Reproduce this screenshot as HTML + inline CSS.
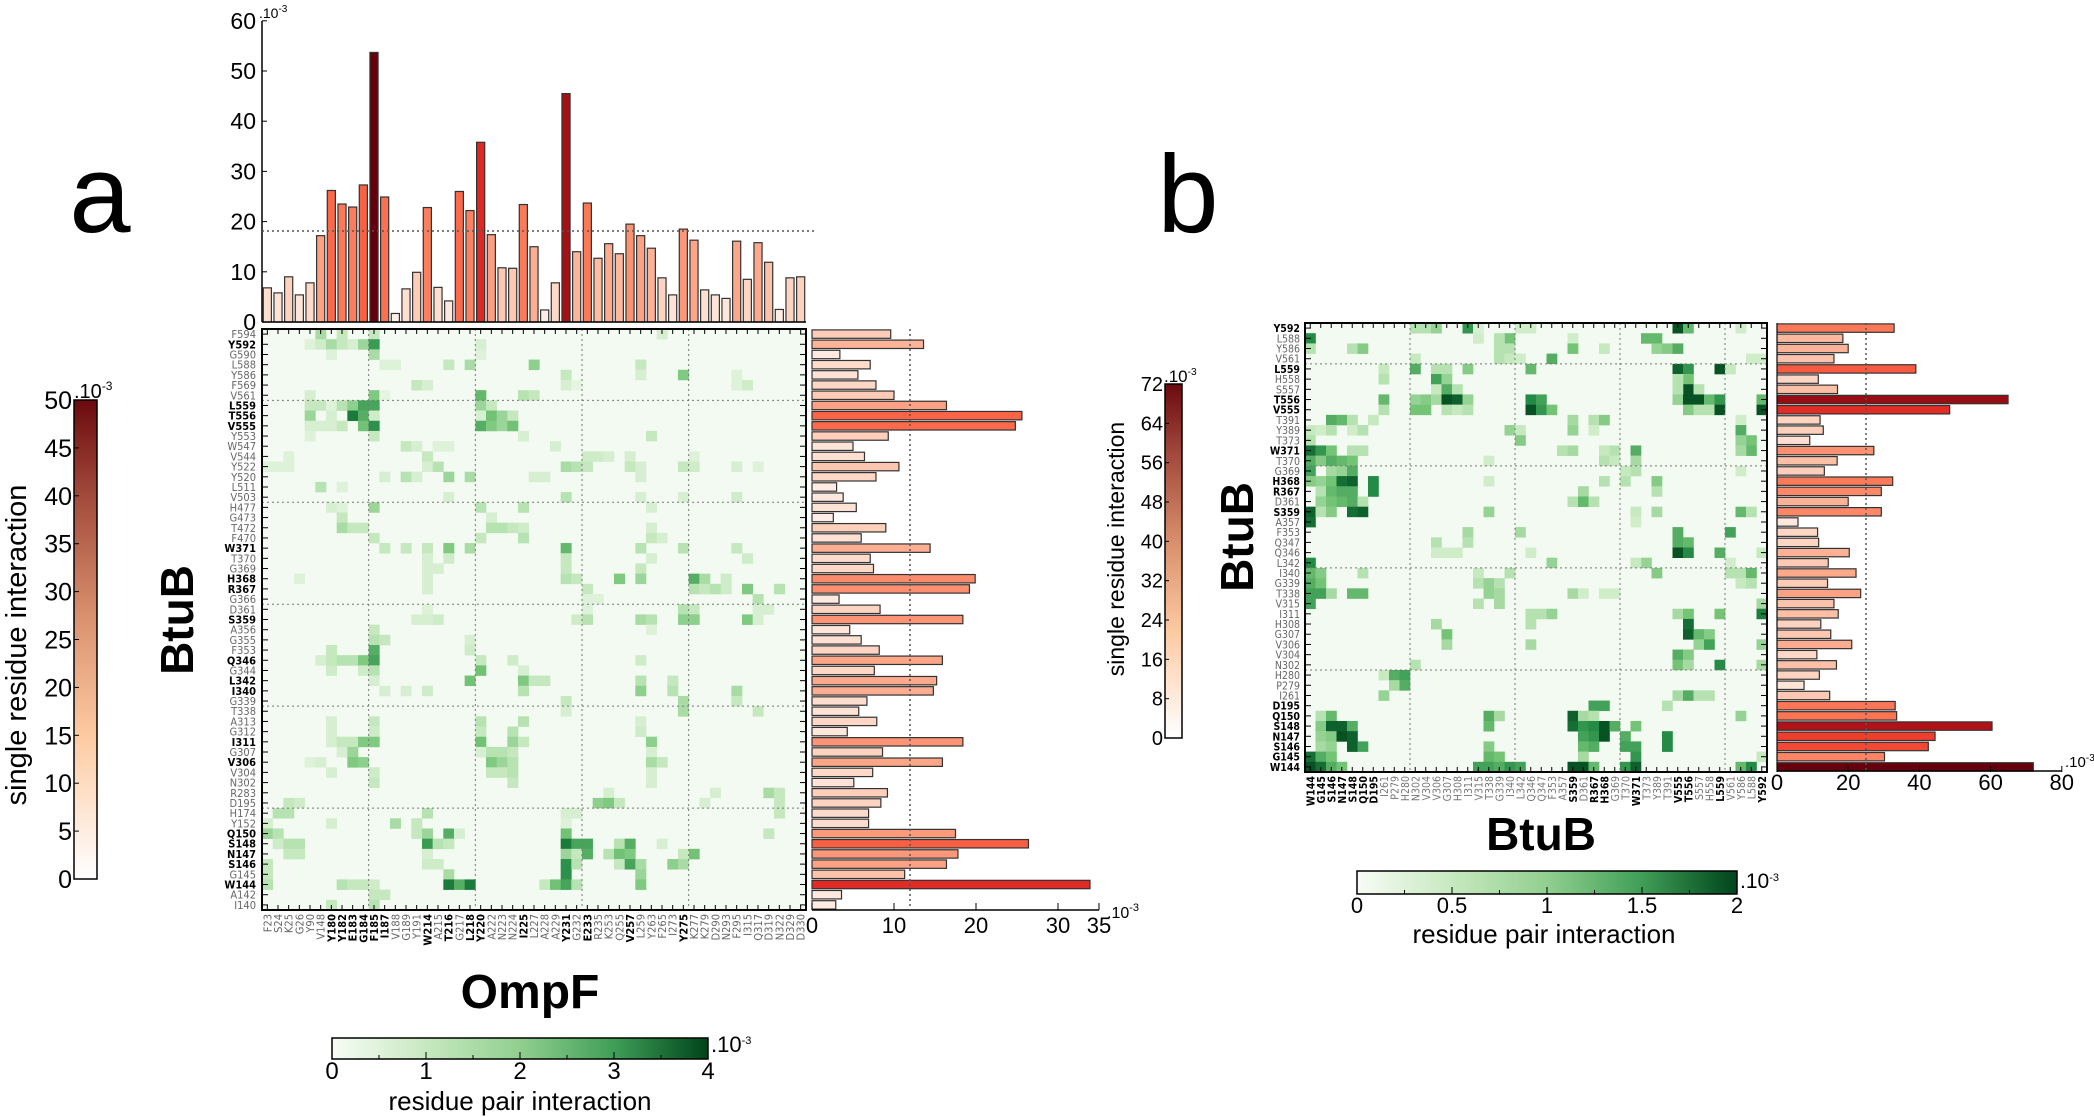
<!DOCTYPE html>
<html><head><meta charset="utf-8"><style>html,body{margin:0;padding:0;background:#fff}svg{display:block}</style></head>
<body>
<svg id="s" xmlns="http://www.w3.org/2000/svg" width="2094" height="1117" viewBox="0 0 2094 1117"></svg>
<script>
const S=[];
const F='font-family="Liberation Sans, DejaVu Sans, sans-serif"';
const FN='font-family="Liberation Sans Narrow, Liberation Sans, sans-serif"';
const FD='font-family="DejaVu Sans Condensed, DejaVu Sans, Liberation Sans, sans-serif"';
function R(x,y,w,h,f,e){S.push(`<rect x="${x.toFixed(2)}" y="${y.toFixed(2)}" width="${w.toFixed(2)}" height="${h.toFixed(2)}" fill="${f}" ${e||''}/>`);}
function L(x1,y1,x2,y2,c,w,e){S.push(`<line x1="${x1}" y1="${y1}" x2="${x2}" y2="${y2}" stroke="${c}" stroke-width="${w}" ${e||''}/>`);}
function T(x,y,t,e){S.push(`<text x="${x}" y="${y}" ${e}>${t}</text>`);}
function lerp(st,t){t=Math.max(0,Math.min(1,t));for(let i=1;i<st.length;i++){if(t<=st[i][0]){const a=st[i-1],b=st[i],u=(t-a[0])/(b[0]-a[0]);const h1=a[1],h2=b[1];const c=[0,1,2].map(k=>Math.round(parseInt(h1.substr(1+2*k,2),16)*(1-u)+parseInt(h2.substr(1+2*k,2),16)*u));return `rgb(${c.join(',')})`;}}return st[st.length-1][1];}
const REDS=[[0,'#fff5f0'],[.125,'#fee0d2'],[.25,'#fcbba1'],[.375,'#fc9272'],[.5,'#fb6a4a'],[.625,'#ef3b2c'],[.75,'#cb181d'],[.875,'#a50f15'],[1,'#67000d']];
const GR=[[0,'#f4fbf2'],[.25,'#c7e9c0'],[.5,'#74c476'],[.75,'#238b45'],[1,'#00441b']];
const red=v=>lerp(REDS,v), grn=v=>lerp(GR,v);
S.push(`<defs><linearGradient id="cbr" x1="0" y1="1" x2="0" y2="0"><stop offset="0" stop-color="#ffffff"/><stop offset=".3" stop-color="#fdcaa2"/><stop offset=".55" stop-color="#d9906d"/><stop offset=".8" stop-color="#a24a3c"/><stop offset="1" stop-color="#6b0a0e"/></linearGradient><linearGradient id="cbg" x1="0" y1="0" x2="1" y2="0"><stop offset="0" stop-color="#f7fcf5"/><stop offset=".25" stop-color="#c7e9c0"/><stop offset=".5" stop-color="#91cf8f"/><stop offset=".75" stop-color="#3f9e57"/><stop offset="1" stop-color="#00441b"/></linearGradient></defs>`);

// ================= PANEL A =================
T(100,232,'a',`${F} font-size="110" text-anchor="middle"`);
const aRows="F594 Y592 G590 L588 Y586 F569 V561 L559 T556 V555 Y553 W547 V544 Y522 Y520 L511 V503 H477 G473 T472 F470 W371 T370 G369 H368 R367 G366 D361 S359 A356 G355 F353 Q346 G344 L342 I340 G339 T338 A313 G312 I311 G307 V306 V304 N302 R283 D195 H174 Y152 Q150 S148 N147 S146 G145 W144 A142 I140".split(' ');
const aBoldR=new Set("Y592 L559 T556 V555 W371 H368 R367 S359 Q346 L342 I340 I311 V306 Q150 S148 N147 S146 W144".split(' '));
const aCols="F23 S24 K25 G26 Y90 V148 Y180 Y182 E183 G184 F185 I187 V188 G189 Y191 W214 A215 T216 G217 L218 Y220 A222 N223 N224 I225 L227 A228 A229 Y231 G232 E233 R235 K253 Q255 V257 L259 Y263 F265 I273 Y275 K277 K279 D290 N293 F295 I315 Q317 D319 N322 D329 D330".split(' ');
const aBoldC=new Set("Y180 Y182 E183 G184 F185 I187 W214 T216 L218 Y220 I225 Y231 E233 V257 Y275".split(' '));
const ax0=262,ax1=806,ay0=329,ay1=910;
const acw=(ax1-ax0)/aCols.length, arh=(ay1-ay0)/aRows.length;
R(ax0,ay0,ax1-ax0,ay1-ay0,'#f3faf1');
const aC=`0:5 .4,7 .3,10 .3,37 .2|1:4 .15,5 .25,6 .4,7 .3,8 .2,9 .45,10 .8,20 .2|2:6 .15,10 .4,20 .15|3:11 .15,12 .15,17 .3,19 .4,25 .5,35 .3|4:28 .3,35 .2,39 .55,44 .15|5:14 .3,15 .2,28 .2,29 .1,44 .15,45 .25|6:4 .2,10 .55,11 .1,20 .65,24 .35,25 .3|7:4 .3,5 .3,6 .15,7 .35,8 .5,9 .75,10 .75,20 .45,21 .3|8:4 .45,6 .2,8 .95,9 .7,10 .25,20 .2,21 .6,22 .45,23 .3|9:4 .2,5 .2,6 .2,7 .3,9 .6,10 .85,20 .7,21 .55,22 .45,23 .6|10:4 .15,10 .3,24 .2,36 .3|11:13 .3,14 .2,16 .15,17 .15,27 .2|12:2 .15,15 .3,30 .25,31 .25,32 .2,34 .2,40 .15|13:0 .15,1 .15,2 .15,15 .2,16 .35,28 .4,29 .35,30 .3,34 .3,35 .2,39 .3,40 .25,44 .2,46 .15|14:11 .2,13 .35,14 .2,17 .45,19 .4,25 .2,26 .2,35 .2|15:5 .35,7 .15|16:17 .2,28 .35,35 .2,39 .2,44 .25|17:6 .2,7 .15,10 .45,20 .35,24 .35,36 .2|18:7 .3,21 .2|19:7 .4,8 .3,9 .3,21 .35,22 .35,23 .3,24 .25,36 .2|20:10 .3,20 .3,24 .35,36 .3,37 .2|21:11 .3,13 .3,15 .3,17 .55,19 .4,28 .65,35 .35,39 .35,44 .3|22:15 .2,17 .25,28 .3,36 .2,45 .25|23:15 .2,16 .2,28 .3,35 .3|24:3 .15,15 .2,28 .35,29 .3,33 .55,35 .45,40 .7,41 .4,43 .25|25:15 .2,30 .3,40 .35,41 .3,42 .35,43 .25,45 .55,48 .35|26:30 .15,31 .15,46 .35|27:15 .15,30 .15,39 .35,40 .3,46 .2,47 .2|28:14 .2,15 .2,16 .25,29 .25,30 .35,35 .4,36 .35,39 .5,40 .5,45 .55,46 .2|29:10 .3,36 .15|30:10 .35,11 .3,19 .2|31:6 .3,10 .7,19 .25|32:5 .2,6 .3,7 .35,8 .35,9 .55,10 .75,20 .3,23 .25,35 .25|33:6 .25,9 .25,10 .35,20 .6,24 .2|34:10 .2,19 .6,24 .55,25 .3,26 .3,35 .35,38 .3|35:11 .2,13 .2,15 .25,24 .35,35 .5,38 .35,44 .4|36:28 .3,39 .4,44 .3|37:28 .2,39 .4,46 .3|38:6 .2,10 .3,20 .35,24 .35,35 .2|39:6 .2,10 .25,20 .3,23 .35,35 .25|40:6 .2,7 .3,8 .3,9 .55,10 .55,20 .6,23 .45,24 .3,36 .5|41:7 .2,8 .45,20 .2,21 .35,22 .35,23 .3,36 .2|42:4 .15,5 .2,8 .55,9 .5,21 .55,22 .45,23 .35,36 .4,37 .3|43:6 .2,10 .25,21 .3,22 .3,23 .35,36 .2|44:10 .3,23 .3,36 .2|45:32 .2,42 .2,47 .4,48 .3|46:2 .3,3 .25,31 .5,32 .55,33 .3,41 .2,48 .3|47:1 .35,2 .35,15 .35,28 .2,29 .2,48 .3|48:0 .2,6 .2,12 .4,14 .3,28 .15|49:0 .45,1 .35,14 .3,15 .45,17 .7,18 .2,28 .6,47 .3|50:1 .25,2 .35,3 .35,15 .8,16 .35,17 .3,28 .95,29 .75,30 .75,33 .35,34 .7,37 .2|51:2 .3,3 .3,15 .2,28 .45,29 .3,30 .7,32 .35,33 .6,34 .55,40 .6,39 .3|52:0 .3,15 .25,16 .25,28 .85,29 .35,33 .3,34 .75,35 .4,38 .5,39 .4|53:0 .3,17 .4,28 .85,35 .45|54:0 .35,7 .35,8 .3,9 .3,10 .25,17 .95,18 .7,19 .95,26 .3,27 .6,28 .75,29 .35,35 .55|55:10 .3,11 .3|56:6 .3,10 .35`;
function cells(str,x0,y0,cw,rh,m){str.split('|').forEach(g=>{const [r,l]=g.split(':');l.split(',').forEach(p=>{const [c,v]=p.split(' ');R(x0+(+c)*cw,y0+(+r)*rh,cw+0.3,rh+0.3,grn(+v*m));});});}
cells(aC,ax0,ay0,acw,arh,0.85);
[10,20,30,40].forEach(k=>L(ax0+k*acw,ay0,ax0+k*acw,ay1,'#777',1,'stroke-dasharray="2,3"'));
[7,17,27,37,47].forEach(k=>L(ax0,ay0+k*arh,ax1,ay0+k*arh,'#777',1,'stroke-dasharray="2,3"'));
R(ax0,ay0,ax1-ax0,ay1-ay0,'none','stroke="#000" stroke-width="2"');
aCols.forEach((c,i)=>{const x=ax0+(i+.5)*acw;L(x,ay0,x,ay0+5,'#000',1);L(x,ay1,x,ay1-5,'#000',1);
 T(0,0,c,`${FD} font-size="11" text-anchor="end" ${aBoldC.has(c)?'font-weight="bold" fill="#000"':'fill="#666"'} transform="translate(${(x+4).toFixed(1)},${ay1+4}) rotate(-90)"`);});
aRows.forEach((r,i)=>{const y=ay0+(i+.5)*arh;L(ax0,y,ax0+6,y,'#000',1);L(ax1,y,ax1-6,y,'#000',1);
 T(256,(y+4).toFixed(1),r,`${FD} font-size="11" text-anchor="end" ${aBoldR.has(r)?'font-weight="bold" fill="#000"':'fill="#666"'}`);});
const topV=[6.8,5.8,9.0,5.4,7.8,17.2,26.2,23.5,22.9,27.3,53.7,24.9,1.7,6.6,9.9,22.8,6.9,4.2,26.0,22.2,35.8,17.4,10.8,10.7,23.4,15.0,2.4,7.8,45.5,14.0,23.7,12.7,15.6,13.6,19.5,17.2,14.7,8.8,5.4,18.5,16.3,6.4,5.4,4.7,16.1,8.5,15.8,11.9,2.5,8.8,9.0];
const tb0=322,tpu=5.02;
topV.forEach((v,i)=>{const x=ax0+(i+.12)*acw;R(x,tb0-v*tpu,acw*.76,v*tpu,red(v/52),'stroke="#333" stroke-width="1.2"');});
L(ax0,21,ax0,tb0,'#000',1.5);L(ax0,tb0,ax1,tb0,'#000',1.5);
for(let k=0;k<=6;k++){const y=tb0-k*10*tpu;L(ax0,y,ax0+5,y,'#000',1);T(256,(y+8).toFixed(1),k*10,`${FN} font-size="23" text-anchor="end"`);}
T(259,18,'.10<tspan dy="-6" font-size="10">-3</tspan>',`${FN} font-size="14"`);
L(ax0,231,817,231,'#555',1.5,'stroke-dasharray="2,3"');
const rV=[9.6,13.6,3.4,7.1,5.6,7.8,10,16.4,25.6,24.8,9.3,5,6.4,10.6,7.8,3,3.8,5.4,2.6,9,6,14.4,7.1,7.5,19.9,19.2,3.3,8.3,18.4,4.6,6,8.2,15.9,7.6,15.2,14.8,6.7,5.7,7.9,4.3,18.4,8.6,15.9,7.4,5.1,9.2,8.4,6.9,6.9,17.5,26.4,17.8,16.4,11.3,33.9,3.6,2.9];
const rx0=812,rpu=8.2;
rV.forEach((v,i)=>{const y=ay0+(i+.5)*arh;R(rx0,y-4.2,v*rpu,8.4,red(v/50),'stroke="#333" stroke-width="1.2"');});
L(rx0,ay1,1099,ay1,'#000',1.5);
[0,10,20,30,35].forEach(k=>{const x=rx0+k*rpu;L(x,ay1,x,ay1-7,'#000',1);T(x,933,k,`${F} font-size="22" text-anchor="middle"`);});
T(1107,918,'.10<tspan dy="-7" font-size="11">-3</tspan>',`${F} font-size="16"`);
L(910,ay0,910,ay1,'#555',1.5,'stroke-dasharray="2,3"');
R(74,400,23,479,'url(#cbr)','stroke="#000" stroke-width="1.5"');
for(let k=0;k<=10;k++){const y=879-k*47.9;L(74,y,79,y,'#000',1);T(72,(y+9).toFixed(1),k*5,`${F} font-size="25" text-anchor="end"`);}
T(74,398,'.10<tspan dy="-8" font-size="12">-3</tspan>',`${F} font-size="20"`);
T(0,0,'single residue interaction',`${F} font-size="29" text-anchor="middle" transform="translate(26,645) rotate(-90)"`);
T(0,0,'BtuB',`${F} font-size="46" font-weight="bold" text-anchor="middle" transform="translate(193,620) rotate(-90)"`);
T(530,1008,'OmpF',`${F} font-size="48" font-weight="bold" text-anchor="middle"`);
R(332,1038,376,21,'url(#cbg)','stroke="#000" stroke-width="1.5"');
for(let k=0;k<=8;k++){const x=332+k*47;L(x,1059,x,k%2?1055:1052,'#000',1);}
for(let k=0;k<=4;k++)T(332+k*94,1079,k,`${FN} font-size="24" text-anchor="middle"`);
T(711,1052,'.10<tspan dy="-8" font-size="11">-3</tspan>',`${FN} font-size="22"`);
T(520,1110,'residue pair interaction',`${F} font-size="26" text-anchor="middle"`);

// ================= PANEL B =================
T(1188,232,'b',`${F} font-size="110" text-anchor="middle"`);
const bRows="Y592 L588 Y586 V561 L559 H558 S557 T556 V555 T391 Y389 T373 W371 T370 G369 H368 R367 D361 S359 A357 F353 Q347 Q346 L342 I340 G339 T338 V315 I311 H308 G307 V306 V304 N302 H280 P279 I261 D195 Q150 S148 N147 S146 G145 W144".split(' ');
const bCols=bRows.slice().reverse();
const bBold=new Set("Y592 L559 T556 V555 W371 H368 R367 S359 D195 Q150 S148 N147 S146 G145 W144".split(' '));
const bx0=1305,bx1=1767,by0=323,by1=772;
const bcw=(bx1-bx0)/44,brh=(by1-by0)/44;
R(bx0,by0,bx1-bx0,by1-by0,'#f3faf1');
const bC=`0:35 .95,36 .55,10 .3,11 .3,12 .4,15 .7,16 .15,20 .2,21 .2,41 .2|1:0 .75,19 .5,32 .55,33 .55,25 .2,16 .2,18 .3|2:0 .3,4 .3,5 .45,18 .3,19 .3,25 .5,28 .25,33 .4,34 .45,35 .6|3:23 .6,18 .3,19 .25,20 .2,10 .25,42 .2,43 .2|4:10 .6,12 .3,13 .3,15 .45,21 .55,35 .9,36 .7,39 .95,40 .25,7 .25|5:7 .3,12 .65,13 .4,36 .5,35 .3|6:12 .25,13 .6,14 .3,36 .95,37 .3,35 .3|7:7 .55,10 .4,11 .45,12 .35,13 .95,14 .9,15 .4,21 .75,22 .65,35 .4,36 .95,37 .95,38 .55,39 .7,43 .55|8:7 .3,10 .5,11 .5,13 .3,14 .25,15 .3,21 .95,22 .7,23 .5,36 .45,37 .3,38 .3,39 .95,43 .95|9:2 .6,3 .55,4 .3,6 .25,25 .35,27 .3,28 .45,41 .2|10:0 .25,1 .2,2 .3,4 .2,5 .3,19 .4,20 .25,25 .4,27 .2,41 .6|11:0 .3,20 .45,42 .5,41 .4|12:0 .85,1 .7,2 .5,4 .3,5 .3,24 .3,25 .35,28 .25,29 .3,31 .6,42 .55,41 .35|13:0 .6,1 .45,2 .6,3 .55,4 .5,17 .2,28 .3,29 .25,31 .35|14:0 .65,2 .35,3 .4,4 .6,30 .25,31 .3,41 .2|15:0 .45,1 .4,2 .5,3 .85,4 .9,6 .75,28 .3,30 .3,33 .45,17 .2|16:1 .3,2 .55,3 .6,4 .6,6 .75,26 .35,33 .3|17:1 .4,2 .5,3 .55,4 .6,5 .3,25 .3,26 .55,27 .3|18:0 .9,1 .3,2 .45,4 .85,5 .9,17 .4,31 .25,33 .35,41 .55,42 .3|19:0 .85,31 .2|20:15 .35,20 .35,35 .6,40 .65|21:12 .3,15 .3,35 .6,36 .55|22:12 .2,13 .2,14 .2,35 .95,36 .75,39 .6,43 .25,21 .2|23:0 .75,23 .4,32 .4,31 .25,40 .2|24:0 .55,1 .45,5 .3,16 .25,19 .3,33 .45,41 .3,42 .55,40 .3|25:0 .6,1 .5,16 .3,17 .4,18 .3,41 .25,42 .3|26:0 .65,1 .65,2 .35,4 .55,5 .55,17 .4,18 .35,25 .35,26 .2,28 .2,29 .2|27:0 .65,16 .3,18 .35,43 .35|28:21 .3,22 .3,23 .4,35 .35,36 .5,39 .5,43 .8|29:12 .35,21 .3,36 .85|30:13 .5,36 .9,37 .55,38 .45|31:13 .35,21 .35,37 .4,38 .65,43 .4|32:35 .6,36 .45|33:10 .3,35 .5,36 .35,39 .75,43 .35|34:7 .25,8 .6,9 .65|35:8 .35,9 .6|36:7 .4,35 .35,36 .6,37 .3,38 .3|37:27 .65,28 .65,34 .3|38:1 .3,2 .55,17 .6,18 .35,25 .9,26 .35,27 .3,41 .4|39:1 .45,2 .9,3 .9,4 .6,17 .55,25 .85,26 .7,27 .75,28 .95,29 .6,31 .5|40:1 .4,2 .45,3 .95,4 .9,26 .65,27 .7,28 .95,30 .6,34 .75|41:1 .35,2 .4,4 .9,5 .65,17 .45,26 .55,27 .6,30 .65,31 .65,34 .75|42:0 .85,1 .6,2 .5,17 .55,18 .5,26 .35,31 .7,43 .25|43:0 .95,1 .85,2 .6,3 .5,16 .65,17 .65,18 .6,19 .7,20 .65,25 .95,26 .95,27 .55,30 .7,31 .9,41 .55,42 .75`;
cells(bC,bx0,by0,bcw,brh,1.0);
[10,20,30,40].forEach(k=>L(bx0+k*bcw,by0,bx0+k*bcw,by1,'#777',1,'stroke-dasharray="2,3"'));
[4,14,24,34].forEach(k=>L(bx0,by0+k*brh,bx1,by0+k*brh,'#777',1,'stroke-dasharray="2,3"'));
R(bx0,by0,bx1-bx0,by1-by0,'none','stroke="#000" stroke-width="2"');
bCols.forEach((c,i)=>{const x=bx0+(i+.5)*bcw;L(x,by0,x,by0+5,'#000',1);L(x,by1,x,by1-5,'#000',1);
 T(0,0,c,`${FD} font-size="10.5" text-anchor="end" ${bBold.has(c)?'font-weight="bold" fill="#000"':'fill="#777"'} transform="translate(${(x+4).toFixed(1)},${by1+4}) rotate(-90)"`);});
bRows.forEach((r,i)=>{const y=by0+(i+.5)*brh;L(bx0,y,bx0+6,y,'#000',1);L(bx1,y,bx1-6,y,'#000',1);
 T(1300,(y+4).toFixed(1),r,`${FD} font-size="10.5" text-anchor="end" ${bBold.has(r)?'font-weight="bold" fill="#000"':'fill="#666"'}`);});
const bV=[32.9,18.5,20,16,39,11.6,17,64.9,48.5,12.1,13,9.2,27.2,16.9,13.3,32.5,29.3,20,29.3,5.9,11.4,11.7,20.3,14.4,22.2,14.2,23.5,16,17.2,12.3,15.1,21,11.2,16.7,11.9,7.6,14.8,33.2,33.6,60.4,44.4,42.5,30.2,72];
const bxr=1777,bpu=3.56;
bV.forEach((v,i)=>{const y=by0+(i+.5)*brh;R(bxr,y-4.2,v*bpu,8.4,red(v/72),'stroke="#333" stroke-width="1.2"');});
L(bxr,by1-1,2062,by1-1,'#000',1.5);L(bxr,by0,bxr,by1,'#000',1);
[0,20,40,60,80].forEach(k=>{const x=bxr+k*bpu;L(x,by1,x,by1-6,'#000',1);T(x,790,k,`${F} font-size="22" text-anchor="middle"`);});
T(2065,767,'.10<tspan dy="-6" font-size="10">-3</tspan>',`${F} font-size="15"`);
L(1866,by0,1866,by1,'#555',1.5,'stroke-dasharray="2,3"');
R(1165,384,17,354,'url(#cbr)','stroke="#000" stroke-width="1.5"');
for(let k=0;k<=9;k++){const y=738-k*39.33;L(1165,y,1169,y,'#000',1);T(1163,(y+7).toFixed(1),k*8,`${FN} font-size="20" text-anchor="end"`);}
T(1164,382,'.10<tspan dy="-7" font-size="10">-3</tspan>',`${FN} font-size="17"`);
T(0,0,'single residue interaction',`${F} font-size="23" text-anchor="middle" transform="translate(1124,549) rotate(-90)"`);
T(0,0,'BtuB',`${F} font-size="46" font-weight="bold" text-anchor="middle" transform="translate(1253,537) rotate(-90)"`);
T(1541,850,'BtuB',`${F} font-size="46" font-weight="bold" text-anchor="middle"`);
R(1357,871,380,23,'url(#cbg)','stroke="#000" stroke-width="1.5"');
for(let k=0;k<=8;k++){const x=1357+k*47.5;L(x,894,x,k%2?890:887,'#000',1);}
['0','0.5','1','1.5','2'].forEach((t,k)=>T(1357+k*95,913,t,`${FN} font-size="22" text-anchor="middle"`));
T(1740,888,'.10<tspan dy="-7" font-size="11">-3</tspan>',`${FN} font-size="21"`);
T(1544,943,'residue pair interaction',`${F} font-size="26" text-anchor="middle"`);

document.getElementById('s').innerHTML=S.join('');
</script>
</body></html>
